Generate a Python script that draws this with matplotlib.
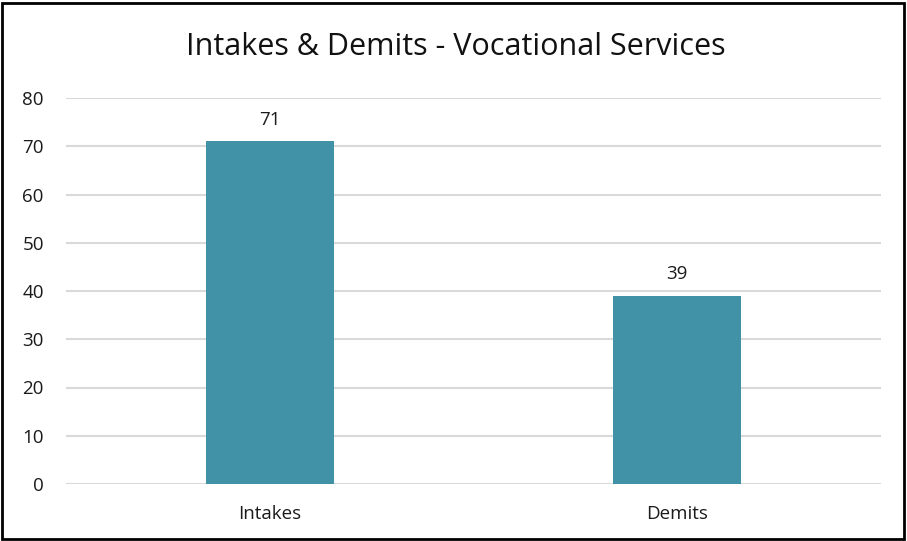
import matplotlib
matplotlib.use("Agg")
import matplotlib.pyplot as plt
from matplotlib.patches import Rectangle

categories = ["Intakes", "Demits"]
values = [71, 39]
yticks = [0, 10, 20, 30, 40, 50, 60, 70, 80]
title = "Intakes & Demits - Vocational Services"

plt.rcParams['font.family'] = ['Open Sans', 'DejaVu Sans']

fig = plt.figure(figsize=(9.07, 5.41), dpi=100)
ax = fig.add_axes([66/907, 1-484/541, 815/907, (484-98)/541])

x = list(range(len(categories)))
bars = ax.bar(x, values, width=0.314, color="#4191A7", zorder=3)
for xi, v in zip(x, values):
    ax.text(xi, v + 2.6, str(v), ha="center", va="bottom", fontsize=13.5, color="#1a1a1a")

ax.set_xlim(-0.5, 1.5)
ax.set_ylim(0, 80)
ax.set_yticks(yticks)
ax.set_xticks(x)
ax.set_xticklabels(categories)
ax.yaxis.grid(True, color="#d9d9d9", linewidth=1.5, zorder=0)
ax.set_axisbelow(True)
for s in ax.spines.values():
    s.set_visible(False)
ax.tick_params(axis="both", length=0, labelsize=13.5, colors="#1a1a1a")
ax.tick_params(axis="y", pad=16)
ax.tick_params(axis="x", pad=15)

fig.text(456/907, 1-47/541, title, ha="center", va="center", fontsize=22, color="#111111")

fig.patches.append(Rectangle((2/907, 2/541), 902/907, 536/541, transform=fig.transFigure,
                             fill=False, edgecolor="black", linewidth=2))

fig.savefig("out.png", dpi=100)
